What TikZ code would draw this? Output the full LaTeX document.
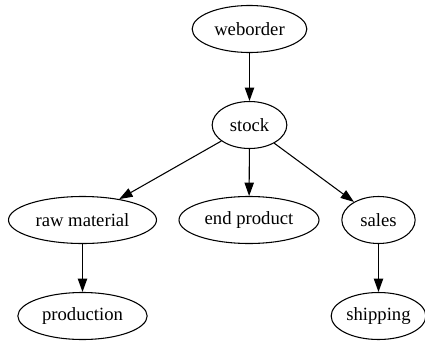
\documentclass[tikz,border=0pt]{standalone}
\usepackage{fontspec}
\setmainfont{Liberation Serif}
\usetikzlibrary{shapes.geometric,arrows.meta}
\begin{document}
\begin{tikzpicture}
  [x=0.75pt,y=-0.75pt,every node/.style={ellipse,draw,line width=0.8pt,inner sep=0pt,
   minimum height=35.25pt,font=\fontsize{14}{16}\selectfont},
   edge/.style={line width=0.8pt,-{Triangle[length=10pt,width=7pt]}}]
  \useasboundingbox (0,0) rectangle (425,343);
  \node[minimum width=86pt]   (weborder) at (249.5,29) {weborder};
  \node[minimum width=56pt]   (stock)    at (249.5,125) {stock};
  \node[minimum width=111pt]  (raw)      at (82.5,220) {raw material};
  \node[minimum width=105pt]  (endprod)  at (249,220) {end product};
  \node[minimum width=55pt]   (sales)    at (378.5,220) {sales};
  \node[minimum width=97pt]   (prod)     at (82.5,316) {production};
  \node[minimum width=71pt]   (ship)     at (378.5,316) {shipping};

  \foreach \from/\to in {weborder/stock,stock/raw,stock/endprod,stock/sales,raw/prod,sales/ship}
    \draw[edge] (\from) -- (\to);
\end{tikzpicture}
\end{document}
